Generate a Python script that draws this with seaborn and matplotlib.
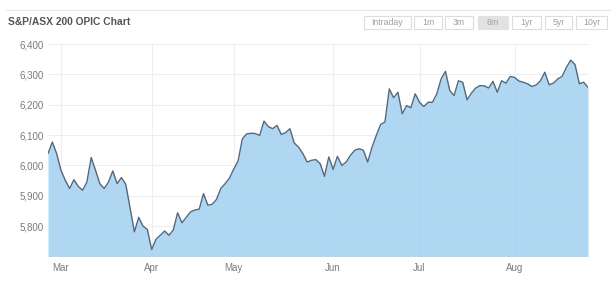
import matplotlib
matplotlib.use("Agg")
import matplotlib.pyplot as plt
import seaborn as sns
import pandas as pd
from matplotlib.patches import Rectangle
from matplotlib.lines import Line2D
from matplotlib.ticker import FuncFormatter

# ---------------- data ----------------
title = "S&P/ASX 200 OPIC Chart"
range_buttons = ["Intraday", "1m", "3m", "6m", "1yr", "5yr", "10yr"]
selected_button = "6m"

values = [
    6039, 6077, 6039, 5984, 5951, 5924, 5953, 5931, 5918, 5945,
    6026, 5984, 5940, 5924, 5945, 5982, 5940, 5960, 5938, 5860,
    5781, 5829, 5800, 5789, 5723, 5757, 5770, 5784, 5770, 5787,
    5844, 5811, 5829, 5847, 5853, 5856, 5907, 5869, 5872, 5888,
    5924, 5940, 5958, 5988, 6015, 6088, 6104, 6106, 6105, 6099,
    6146, 6128, 6121, 6132, 6102, 6108, 6121, 6074, 6060, 6039,
    6011, 6017, 6019, 6006, 5964, 6028, 5987, 6030, 6000, 6011,
    6033, 6050, 6055, 6050, 6011, 6060, 6099, 6135, 6143, 6252,
    6223, 6241, 6170, 6197, 6190, 6236, 6208, 6194, 6208, 6208,
    6236, 6285, 6310, 6247, 6230, 6279, 6274, 6216, 6238, 6255,
    6263, 6262, 6255, 6277, 6241, 6279, 6271, 6293, 6290, 6278,
    6274, 6269, 6260, 6265, 6279, 6307, 6266, 6271, 6285, 6293,
    6323, 6347, 6332, 6269, 6274, 6257,
]
trading_day = list(range(len(values)))

month_labels = ["Mar", "Apr", "May", "Jun", "Jul", "Aug"]
month_trading_day = [3, 24, 43, 66, 86, 108]

y_ticks = [5800, 5900, 6000, 6100, 6200, 6300, 6400]
y_min, y_max = 5700, 6400

df = pd.DataFrame({"day": trading_day, "value": values})

# ---------------- style ----------------
sns.set_theme(style="white")
plt.rcParams["font.family"] = ["Liberation Sans", "DejaVu Sans"]

W, H = 611, 295
fig = plt.figure(figsize=(W / 100, H / 100), dpi=100)
fig.patch.set_facecolor("white")

ax_left, ax_right, ax_top, ax_bottom = 48, 588, 44, 256.5
ax = fig.add_axes([ax_left / W, 1 - ax_bottom / H,
                   (ax_right - ax_left) / W, (ax_bottom - ax_top) / H])

ax.fill_between(df["day"], df["value"], y_min, color="#a2d0f0", alpha=0.85,
                linewidth=0, zorder=1)
sns.lineplot(data=df, x="day", y="value", ax=ax, color="#56677a",
             linewidth=1.0, zorder=3)

ax.set_xlim(0, len(values) - 1)
ax.set_ylim(y_min, y_max)
ax.set_xticks(month_trading_day)
ax.set_xticklabels(month_labels)
ax.set_yticks(y_ticks)
ax.yaxis.set_major_formatter(FuncFormatter(lambda v, p: f"{int(v):,}"))
ax.set_xlabel("")
ax.set_ylabel("")
ax.grid(True, color="#eeeeee", linewidth=0.8, zorder=0)
ax.set_axisbelow(True)
for s in ax.spines.values():
    s.set_visible(False)
ax.tick_params(axis="both", length=0, labelsize=7, labelcolor="#7a7a7a")
ax.tick_params(axis="y", pad=3)
ax.tick_params(axis="x", pad=5)

# ---------------- header ----------------
fig.add_artist(Line2D([6 / W, 1], [1 - 10 / H] * 2, color="#e6e6e6",
                      linewidth=0.8))
fig.text(8 / W, 1 - 22 / H, title, fontsize=7.4, fontweight="bold",
         color="#555555", ha="left", va="center")

button_spans = [(364, 411), (414, 442), (445, 473), (478, 508),
                (512, 541), (545, 572), (576, 607)]
by0, by1 = 16, 29.3
for label, (x0, x1) in zip(range_buttons, button_spans):
    sel = label == selected_button
    fig.add_artist(Rectangle((x0 / W, 1 - by1 / H), (x1 - x0) / W,
                             (by1 - by0) / H, transform=fig.transFigure,
                             facecolor="#e2e2e2" if sel else "white",
                             edgecolor="#e2e2e2" if sel else "#dddddd",
                             linewidth=0.8))
    fig.text((x0 + x1) / 2 / W, 1 - (by0 + by1) / 2 / H, label,
             fontsize=6.3, color="#a0a0a0", ha="center", va="center")

fig.savefig("out.png", dpi=100, facecolor="white")
